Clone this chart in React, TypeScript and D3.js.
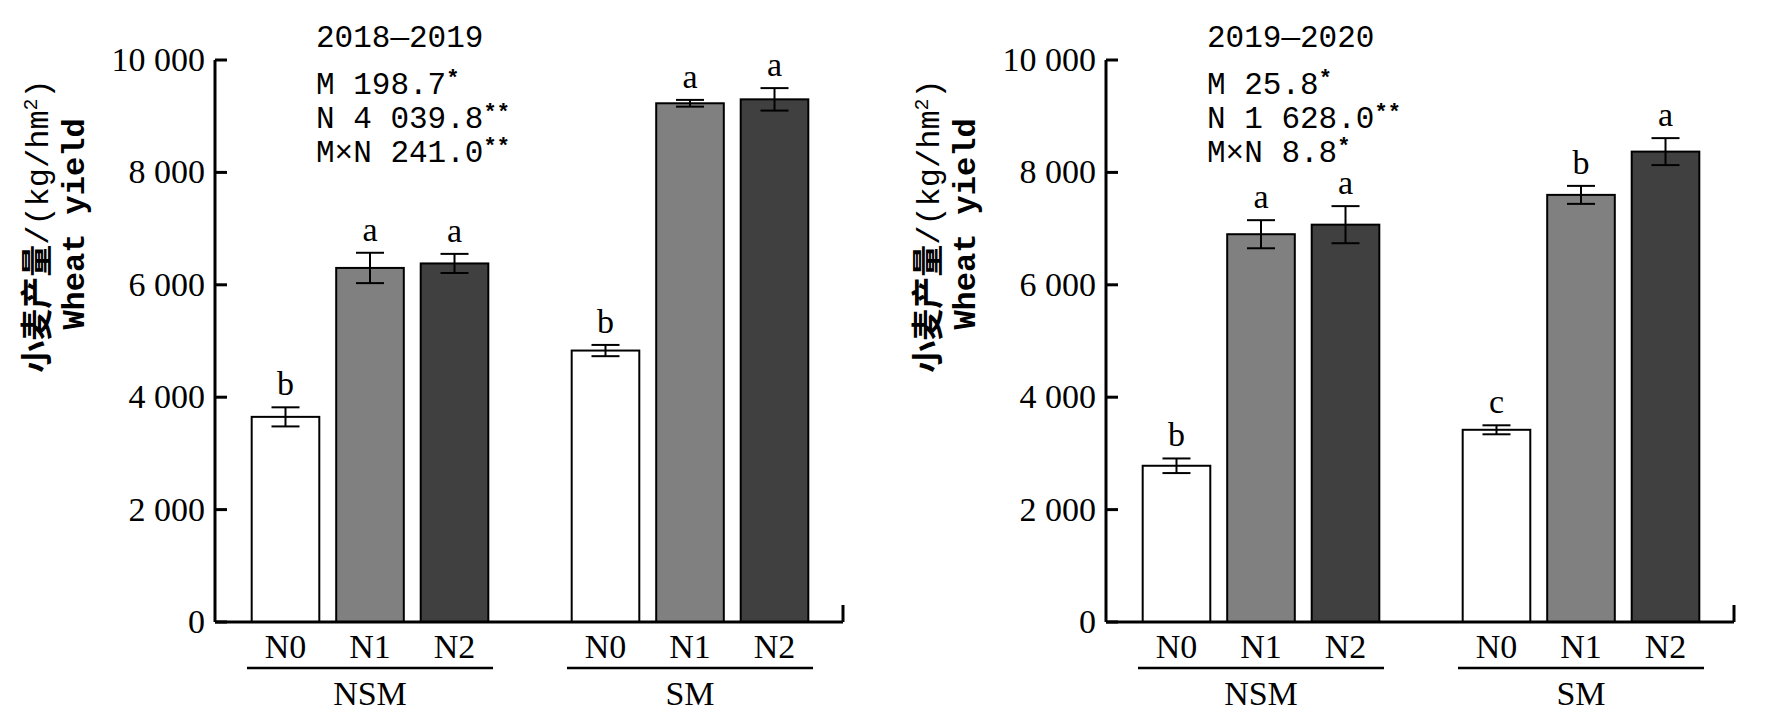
import * as d3 from "d3";
import React from "react";

const groups = ["NSM", "SM"];
const levels = ["N0", "N1", "N2"];
const fills = ["#ffffff", "#808080", "#404040"];
const yTicks = [0, 2000, 4000, 6000, 8000, 10000];

const panels = [
  {
    title: "2018—2019",
    stats: [["M 198.7", "*"], ["N 4 039.8", "**"], ["M×N 241.0", "**"]],
    means: [3650, 6300, 6380, 4830, 9230, 9300],
    errs: [170, 270, 170, 100, 60, 200],
    letters: ["b", "a", "a", "b", "a", "a"],
  },
  {
    title: "2019—2020",
    stats: [["M 25.8", "*"], ["N 1 628.0", "**"], ["M×N 8.8", "*"]],
    means: [2780, 6900, 7070, 3420, 7600, 8370],
    errs: [130, 250, 330, 80, 160, 240],
    letters: ["b", "a", "a", "c", "b", "a"],
  },
];

const serif = "'Liberation Serif', 'DejaVu Serif', serif";
const mono = "'Liberation Mono', 'DejaVu Sans Mono', monospace";

function Panel({ p, dx }: { p: typeof panels[0]; dx: number }) {
  const x0 = 215, x1 = 843, yTop = 60, yBot = 622;
  const y = d3.scaleLinear().domain([0, 10000]).range([yBot, yTop]);
  const gx = d3.scaleBand().domain(groups).range([250, 810]).paddingInner(0.25);
  const bx = d3.scaleBand().domain(levels).range([0, gx.bandwidth()]).paddingInner(0.2).paddingOuter(0.02);
  const statY = [84, 118, 152];
  return (
    <g transform={`translate(${dx},0)`}>
      {groups.map((g, gi) => (
        <g key={g}>
          {levels.map((l, li) => {
            const i = gi * 3 + li;
            const bx0 = gx(g)! + bx(l)!;
            const cx = bx0 + bx.bandwidth() / 2;
            const m = p.means[i], e = p.errs[i];
            return (
              <g key={l}>
                <rect x={bx0} y={y(m)} width={bx.bandwidth()} height={yBot - y(m)} fill={fills[li]} stroke="#000" strokeWidth={2} />
                <line x1={cx} x2={cx} y1={y(m + e)} y2={y(m - e)} stroke="#000" strokeWidth={2} />
                <line x1={cx - 14} x2={cx + 14} y1={y(m + e)} y2={y(m + e)} stroke="#000" strokeWidth={2} />
                <line x1={cx - 14} x2={cx + 14} y1={y(m - e)} y2={y(m - e)} stroke="#000" strokeWidth={2} />
                <text x={cx} y={y(m + e) - 12} textAnchor="middle" fontFamily={serif} fontSize={34}>{p.letters[i]}</text>
                <text x={cx} y={658} textAnchor="middle" fontFamily={serif} fontSize={34}>{l}</text>
              </g>
            );
          })}
          <line x1={gx(g)! - 3} x2={gx(g)! + gx.bandwidth() + 3} y1={668} y2={668} stroke="#000" strokeWidth={2.5} />
          <text x={gx(g)! + gx.bandwidth() / 2} y={705} textAnchor="middle" fontFamily={serif} fontSize={34}>{g}</text>
        </g>
      ))}
      <line x1={x0} x2={x0} y1={yTop} y2={yBot} stroke="#000" strokeWidth={3} />
      <line x1={x0} x2={x1} y1={yBot} y2={yBot} stroke="#000" strokeWidth={3} />
      <line x1={x1} x2={x1} y1={yBot - 17} y2={yBot} stroke="#000" strokeWidth={3} />
      {yTicks.map((t) => (
        <g key={t}>
          <line x1={x0} x2={x0 + 12} y1={y(t)} y2={y(t)} stroke="#000" strokeWidth={3} />
          <text x={205} y={y(t) + 11} textAnchor="end" fontFamily={serif} fontSize={34}>
            {t === 0 ? "0" : d3.format(",")(t).replace(",", " ")}
          </text>
        </g>
      ))}
      <text x={316} y={47} fontFamily={mono} fontSize={31}>{p.title}</text>
      {p.stats.map((s, i) => (
        <text key={i} x={316} y={statY[i] + 10} fontFamily={mono} fontSize={31}>
          {s[0]}
          <tspan fontSize={22} dy={-9} fontWeight="bold">{s[1]}</tspan>
        </text>
      ))}
      <text transform="translate(48,226) rotate(-90)" textAnchor="middle" fontSize={32}>
        <tspan fontFamily="'Noto Sans CJK SC', sans-serif" fontWeight="bold">小麦产量</tspan>
        <tspan fontFamily={mono}>/(kg/hm</tspan>
        <tspan fontFamily={mono} fontSize={20} dy={-11}>2</tspan>
        <tspan fontFamily={mono} dy={11}>)</tspan>
      </text>
      <text transform="translate(84,224) rotate(-90)" textAnchor="middle" fontFamily={mono} fontSize={32} fontWeight="bold">
        Wheat yield
      </text>
    </g>
  );
}

export default function App() {
  return (
    <svg width={1776} height={722} style={{ position: "absolute", left: 0, top: 0, background: "#fff" }}>
      <rect width={1776} height={722} fill="#fff" />
      <Panel p={panels[0]} dx={0} />
      <Panel p={panels[1]} dx={891} />
    </svg>
  );
}
